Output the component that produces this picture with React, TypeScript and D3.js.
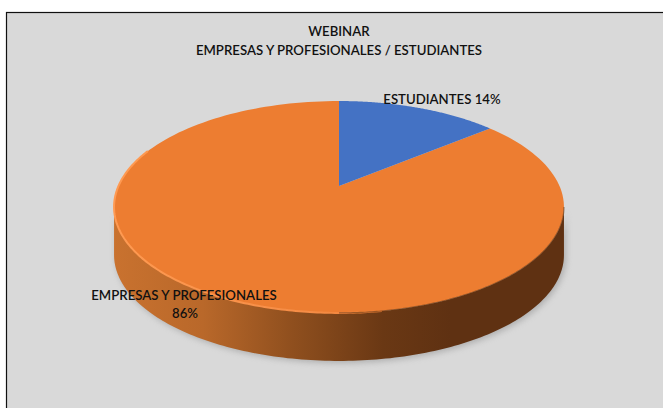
import React from "react";
import * as d3 from "d3";

const categories = ["ESTUDIANTES", "EMPRESAS Y PROFESIONALES"];
const shares = [14, 86];
const colors = ["#4472c4", "#ed7d31"];
const titleLines = ["WEBINAR", "EMPRESAS Y PROFESIONALES / ESTUDIANTES"];

const W = 663, H = 408;
const cx = 339, cy = 186, Rx = 220.5, Ry = 101.8, k = 0.198, depth = 48;

const project = (a: number): [number, number] => {
  const u = Math.sin(a), v = Math.cos(a), w = 1 + k * v;
  return [cx + (Rx * u) / w, cy - (Ry * v) / w];
};
const arcs = d3.pie<number>().sort(null)(shares);
const line = d3.line();
const sample = (a0: number, a1: number, n = 160) =>
  d3.range(n + 1).map((i) => project(a0 + ((a1 - a0) * i) / n));

// silhouette tangent points of the rim (widest x)
const tangent = Math.acos(-k);
const front = sample(tangent, 2 * Math.PI - tangent);
const sidePts: [number, number][] = [
  ...front,
  ...[...front].reverse().map(([x, y]) => [x, y + depth] as [number, number]),
];
const font = "Lato, 'Open Sans', sans-serif";

export default function App() {
  return (
    <svg width={W} height={H} style={{ position: "absolute", left: 0, top: 0, display: "block", background: "#fff" }}>
      <defs>
        <linearGradient id="side" gradientUnits="userSpaceOnUse" x1={113} x2={563} y1={0} y2={0}>
          <stop offset="0" stopColor="#c9722f" />
          <stop offset="0.2" stopColor="#b9682a" />
          <stop offset="0.4" stopColor="#8f4f1e" />
          <stop offset="0.6" stopColor="#6a3814" />
          <stop offset="0.75" stopColor="#5f3112" />
          <stop offset="1" stopColor="#5f3112" />
        </linearGradient>
        <linearGradient id="rim" gradientUnits="userSpaceOnUse" x1={113} x2={400} y1={0} y2={0}>
          <stop offset="0" stopColor="#ff9a52" />
          <stop offset="0.7" stopColor="#f58c45" />
          <stop offset="1" stopColor="#ed7d31" />
        </linearGradient>
        <filter id="blur" x="-10%" y="-10%" width="120%" height="120%"><feGaussianBlur stdDeviation="3" /></filter>
        <filter id="soft" x="-5%" y="-5%" width="110%" height="110%"><feGaussianBlur stdDeviation="0.7" /></filter>
      </defs>
      <rect x={6.5} y={12.5} width={W + 10} height={H + 10} fill="#d9d9d9" stroke="#111" strokeWidth={1.2} />
      <path d={line(sidePts.map(([x, y]) => [x + 2, y + 2] as [number, number]))! + "Z"} fill="#8a8a8a" opacity={0.55} filter="url(#blur)" />
      <path d={line(sidePts)! + "Z"} fill="url(#side)" />
      {arcs.slice().reverse().map((d) => (
        <path
          key={d.index}
          d={line([[cx, cy], ...sample(d.startAngle, d.endAngle)])! + "Z"}
          fill={colors[d.index]}
        />
      ))}
      <path d={line(sample(Math.PI * 0.95, Math.PI * 1.62))!} fill="none" stroke="url(#rim)" strokeWidth={2} filter="url(#soft)" />
      <path d={line(sample(tangent, Math.PI))!} fill="none" stroke="#6a3a17" strokeWidth={1.2} opacity={0.6} filter="url(#soft)" />
      <g fontFamily={font} fontWeight={600} fontSize={13.2} fill="#111" textAnchor="middle">
        {titleLines.map((t, i) => (
          <text key={t} x={339} y={36 + i * 18.5}>{t}</text>
        ))}
        <text x={442} y={104}>{`${categories[0]}  ${shares[0]}%`}</text>
        <text x={184} y={300}>{categories[1]}</text>
        <text x={185} y={318}>{shares[1]}%</text>
      </g>
    </svg>
  );
}
